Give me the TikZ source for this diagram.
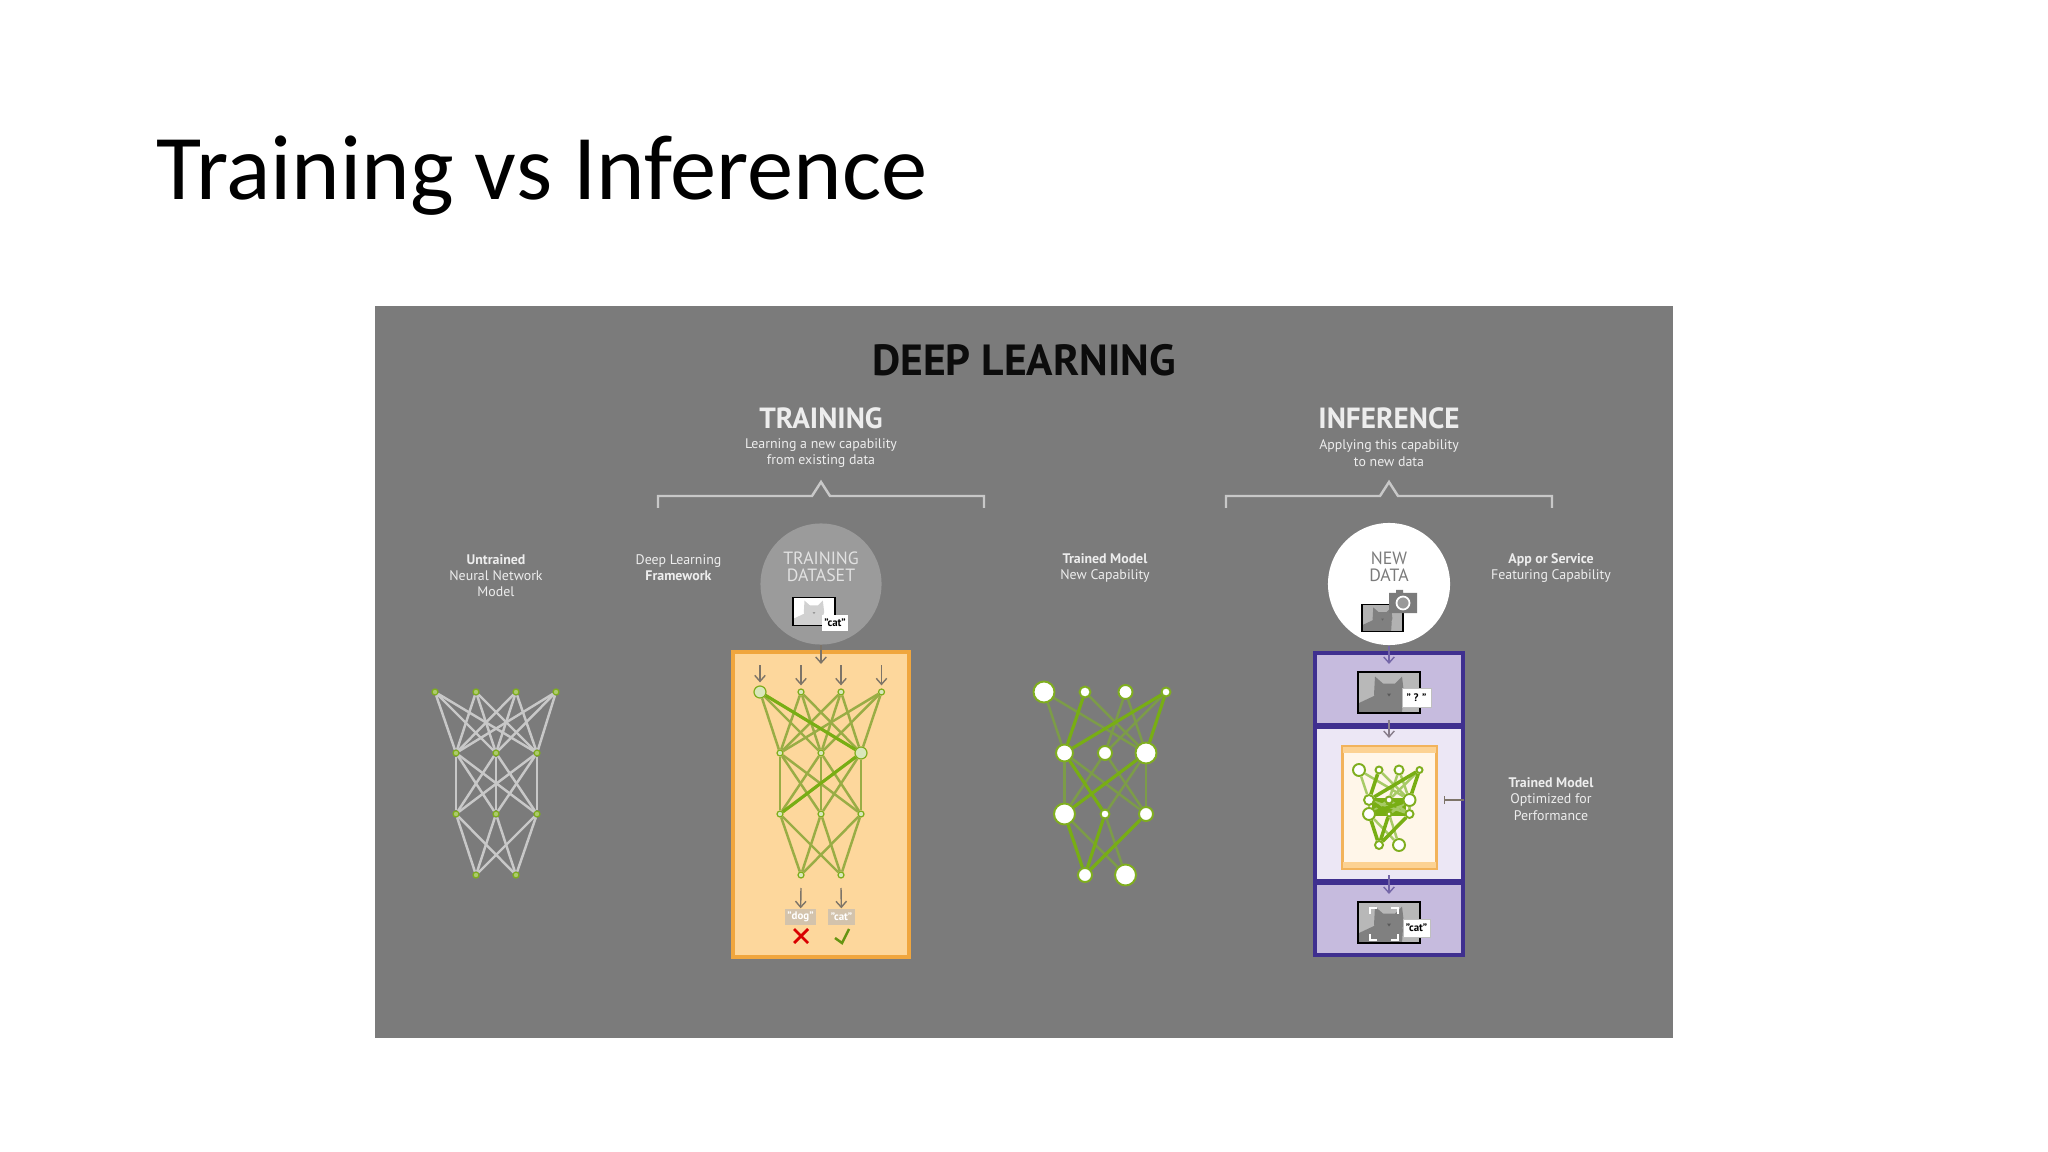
\documentclass[tikz,border=0pt]{standalone}
\usepackage{fontspec}
\setmainfont{PT Sans}
\newfontfamily\slidefont{Carlito}
\usetikzlibrary{arrows.meta, calc, positioning}

\definecolor{panelgray}{HTML}{7B7B7B}
\definecolor{labelwhite}{HTML}{EDEDED}
\definecolor{wiregray}{HTML}{C8C8C8}
\definecolor{unitgreen}{HTML}{7FAE1E}
\definecolor{wireolive}{HTML}{99AD45}
\definecolor{wirebright}{HTML}{78AE14}
\definecolor{wiredim}{HTML}{7C9C48}
\definecolor{boxorange}{HTML}{F0A63E}
\definecolor{fillorange}{HTML}{FDD79C}
\definecolor{boxpurple}{HTML}{3F2F8F}
\definecolor{fillpurple}{HTML}{C6BBDE}
\definecolor{filllilac}{HTML}{ECE7F5}
\definecolor{flowgray}{HTML}{7D7468}
\definecolor{flowpurple}{HTML}{7466A8}
\definecolor{circlegray}{HTML}{9B9B9B}

\tikzset{
	lab/.style={font=\fontsize{3.95}{4.65}\selectfont, text=labelwhite, align=center},
	head/.style={font=\fontsize{8.3}{9}\selectfont\bfseries, text=labelwhite},
	circlab/.style={font=\fontsize{5.05}{4.8}\selectfont, align=center},
	bracket/.style={draw=wiregray, line width=0.7pt},
	unit/.style={circle, inner sep=0pt, minimum size=0.06cm, fill=white!35!unitgreen, draw=unitgreen, line width=0.35pt},
	bigunit/.style={circle, inner sep=0pt, fill=white, draw=unitgreen, line width=0.55pt},
	wire/.style={line width=0.7pt},
	flow/.style={-{Straight Barb[length=1.7pt, width=3pt]}, line width=0.4pt, draw=flowgray},
	tagbox/.style={rectangle, inner sep=0pt, font=\fontsize{3.1}{3.1}\selectfont\bfseries},
	pics/catphoto/.style n args={3}{code={
		\begin{scope}
			\clip (-31,-20.5) rectangle (31,20.5);
			\fill[#1] (-31,-20.5) rectangle (31,20.5);
			\fill[#2] (-31,20.5) -- (-31,11) -- (-14,3) -- (14,6) -- (13,20.5) -- cycle;
			\fill[#2] (-14,-16) -- (-6,-9) -- (6,-9) -- (13,-16) -- (15,1) .. controls (12,12) and (5,16) .. (0,16) .. controls (-6,16) and (-13,11) .. (-15,2) -- cycle;
			\fill[#3] (-2,1) -- (2,1) -- (0,4) -- cycle;
		\end{scope}
		\draw[line width=0.5pt, black] (-31,-20.5) rectangle (31,20.5);
	}}
}

\def\brightwires{1-2/2-1, 1-4/2-1, 1-4/2-3, 2-1/3-2, 2-3/3-1, 3-1/4-1, 3-2/4-1, 3-3/4-1}
\def\dimwires{1-1/2-1, 1-1/2-3, 1-2/2-3, 1-3/2-2, 1-3/2-3, 1-4/2-2, 2-1/3-1, 2-1/3-3, 2-2/3-1, 2-2/3-3, 2-3/3-2, 2-3/3-3, 3-1/4-2, 3-2/4-2}

\begin{document}
\begin{tikzpicture}[x=0.01cm, y=-0.01cm]
	\useasboundingbox (0,0) rectangle (2048,1152);
	\node [anchor=base west, inner sep=0pt, font=\slidefont\fontsize{26.3}{30}\selectfont] (slidetitle) at (156,200) {Training vs Inference};
	\fill[panelgray] (375,306) rectangle (1673,1038);

	% headings
	\node [font=\fontsize{12.4}{13}\selectfont\bfseries, text=black!90!panelgray] (deeplearning) at (1024,360) {DEEP LEARNING};
	\node [head] (training) at (821,418) {TRAINING};
	\node [head] (inference) at (1389,418) {INFERENCE};
	\node [lab] (trainingsub) at (821,453) {Learning a new capability\\from existing data};
	\node [lab] (inferencesub) at (1389,453) {Applying this capability\\to new data};
	\foreach \cx in {821, 1389}
		\draw[bracket] ({\cx-163},508) -- ({\cx-163},496) -- ({\cx-9},496) -- (\cx,482) -- ({\cx+9},496) -- ({\cx+163},496) -- ({\cx+163},508);

	% column labels
	\node [lab] (untrainedlab) at (496,575.5) {\textbf{Untrained}\\Neural Network\\Model};
	\node [lab] (frameworklab) at (678.5,567.5) {Deep Learning\\\textbf{Framework}};
	\node [lab] (modellab) at (1105,568) {\textbf{Trained Model}\\New Capability};
	\node [lab] (applab) at (1551,568) {\textbf{App or Service}\\Featuring Capability};
	\node [lab] (optimizedlab) at (1551,799) {\textbf{Trained Model}\\Optimized for\\Performance};

	% untrained network
	\foreach \n/\x/\y in {1-1/435/692, 1-2/476/692, 1-3/516/692, 1-4/556/692,
			2-1/456/753, 2-2/496/753, 2-3/537/753,
			3-1/456/814, 3-2/496/814, 3-3/537/814,
			4-1/476/875, 4-2/516/875}
		\node [unit] (u\n) at (\x,\y) {};
	\foreach \p in {1,2,3,4}
		\foreach \q in {1,2,3}
			\draw[wire, wiregray] (u1-\p) -- (u2-\q);
	\foreach \p in {1,2,3}
		\foreach \q in {1,2,3}
			\draw[wire, wiregray] (u2-\p) -- (u3-\q);
	\foreach \p in {1,2,3}
		\foreach \q in {1,2}
			\draw[wire, wiregray] (u3-\p) -- (u4-\q);

	% training box
	\node [rectangle, draw=boxorange, fill=fillorange, line width=1pt, minimum width=1.76cm, minimum height=3.05cm] (trainbox) at (821,804.5) {};
	\node [circle, fill=circlegray, minimum size=1.21cm, inner sep=0pt] (traindata) at (821,584) {};
	\node [circlab, text=labelwhite!90!panelgray] (traindatalab) at (821,566.5) {TRAINING\\DATASET};
	\pic [scale=0.68] (trainphoto) at (814,611.5) {catphoto={white}{white!82!black}{white!60!black}};
	\node [tagbox, fill=white, text=black, minimum width=0.26cm, minimum height=0.16cm] (traintag) at (835,623) {"cat"};
	\foreach \n/\x/\y/\r in {1-1/760/692/6, 1-2/801/692/3, 1-3/841/692/3, 1-4/881.5/692/3,
			2-1/780/753/3, 2-2/821/753/3, 2-3/861/753/6,
			3-1/780/814/3, 3-2/821/814/3, 3-3/861/814/3,
			4-1/801/875/3, 4-2/841/875/3}
		\node [unit, minimum size=2*\r*0.01cm, fill=white!70!unitgreen] (f\n) at (\x,\y) {};
	\foreach \p in {1,2,3,4}
		\foreach \q in {1,2,3}
			\draw[wire, wireolive] (f1-\p) -- (f2-\q);
	\foreach \p in {1,2,3}
		\foreach \q in {1,2,3}
			\draw[wire, wireolive] (f2-\p) -- (f3-\q);
	\foreach \p in {1,2,3}
		\foreach \q in {1,2}
			\draw[wire, wireolive] (f3-\p) -- (f4-\q);
	\draw[wire, wirebright, line width=0.9pt] (f1-1) -- (f2-3);
	\draw[wire, wirebright, line width=0.9pt] (f2-3) -- (f3-1);
	\coordinate (trainin) at (821,664);
	\draw[flow] (traindata) -- (trainin);
	\foreach \p/\x in {1/760, 2/801, 3/841, 4/881.5} {
		\coordinate (in\p) at (\x,665);
		\draw[flow, shorten >=0.03cm] (in\p) -- (f1-\p);
	}
	\node [tagbox, fill=white!45!panelgray!60!fillorange, text=white, minimum width=0.31cm, minimum height=0.16cm] (dogtag) at (800.5,917) {"dog"};
	\node [tagbox, fill=white!45!panelgray!60!fillorange, text=white, minimum width=0.27cm, minimum height=0.16cm] (cattag) at (841.5,917) {"cat"};
	\coordinate (dogin) at (801,888);
	\coordinate (catin) at (841,888);
	\draw[flow] (dogin) -- (dogtag);
	\draw[flow] (catin) -- (cattag);
	\draw[line width=0.8pt, red!85!black] (794,929) -- (808,943) (808,929) -- (794,943);
	\draw[line width=0.7pt, wirebright!85!black] (835,938) -- (842,943) -- (849,929);

	% trained model
	\foreach \n/\x/\y/\r in {1-1/1044/692/10.5, 1-2/1085/692/5.5, 1-3/1125.5/692/7, 1-4/1166/692/4.5,
			2-1/1064.5/753/8.5, 2-2/1105/753/7, 2-3/1146/753/10.5,
			3-1/1064.5/814/10.5, 3-2/1105/814/4.5, 3-3/1146/814/7,
			4-1/1085/875/7, 4-2/1125.5/875/10.5}
		\node [bigunit, minimum size=2*\r*0.01cm] (m\n) at (\x,\y) {};
	\foreach \p/\q in \dimwires
		\draw[wire, wiredim] (m\p) -- (m\q);
	\foreach \p/\q in \brightwires
		\draw[wire, wirebright, line width=0.9pt] (m\p) -- (m\q);

	% inference column
	\node [rectangle, draw=boxpurple, fill=fillpurple, line width=1.1pt, minimum width=1.48cm, minimum height=0.72cm] (inputbox) at (1389,689) {};
	\node [rectangle, draw=boxpurple, fill=fillpurple, line width=1.1pt, minimum width=1.48cm, minimum height=0.72cm] (outputbox) at (1389,919) {};
	\node [rectangle, draw=boxpurple, fill=filllilac, line width=1.1pt, minimum width=1.48cm, minimum height=1.54cm] (modelbox) at (1389,804) {};
	\node [circle, fill=white, minimum size=1.22cm, inner sep=0pt] (newdata) at (1389,584) {};
	\node [circlab, text=panelgray] (newdatalab) at (1389,566.5) {NEW\\DATA};
	\pic [scale=0.66] (newphoto) at (1382.5,618) {catphoto={white!70!black}{white!50!black}{white!40!black}};
	\fill[panelgray] (1389,593) rectangle (1417,613) (1396,590) rectangle (1403,593);
	\draw[white, line width=0.5pt, fill=white!60!black] (1403,603) circle (6.5);

	\pic (inputphoto) at (1389,692.5) {catphoto={white!72!black}{white!50!black}{white!35!black}};
	\node [tagbox, fill=white, draw=white!75!black, line width=0.2pt, text=black, minimum width=0.29cm, minimum height=0.19cm] (asktag) at (1416.5,697.5) {" ? "};
	\pic (outputphoto) at (1389,922.5) {catphoto={white!72!black}{white!50!black}{white!35!black}};
	\draw[white, line width=0.45pt] (1370,914) |- (1377,908) (1391,908) -| (1398,914) (1370,934) |- (1377,940) (1391,940) -| (1398,934);
	\node [tagbox, fill=white, draw=white!75!black, line width=0.2pt, text=black, minimum width=0.27cm, minimum height=0.18cm] (answertag) at (1416.5,928) {"cat"};

	\node [rectangle, draw=boxorange!85!white, fill=white!78!fillorange, line width=0.6pt, minimum width=0.94cm, minimum height=1.22cm] (optbox) at (1389.5,807.5) {};
	\node [rectangle, fill=fillorange!90!boxorange, minimum width=0.93cm, minimum height=0.06cm, inner sep=0pt] (optbandtop) at (1389.5,750) {};
	\node [rectangle, fill=fillorange!90!boxorange, minimum width=0.93cm, minimum height=0.06cm, inner sep=0pt] (optbandbottom) at (1389.5,865) {};
	\fill[wirebright] (1372,798) rectangle (1406,816);
	\foreach \n/\x/\y/\r in {1-1/1359/770/6, 1-2/1379/770/3.5, 1-3/1399/770/4.5, 1-4/1419.5/770/3,
			2-1/1369/800/5, 2-2/1389/800/3.5, 2-3/1409.5/800/6,
			3-1/1369/814/6, 3-2/1389/814/2.5, 3-3/1409.5/814/4,
			4-1/1379/845/4, 4-2/1399/845/6}
		\node [bigunit, minimum size=2*\r*0.01cm] (o\n) at (\x,\y) {};
	\foreach \p/\q in \dimwires
		\draw[wire, wirebright!65!white] (o\p) -- (o\q);
	\foreach \p/\q in \brightwires
		\draw[wire, wirebright, line width=1pt] (o\p) -- (o\q);

	\coordinate (inputin) at (1389,664);
	\coordinate (midstart) at (1389,720);
	\coordinate (midend) at (1389,738);
	\coordinate (outstart) at (1389,875);
	\coordinate (outend) at (1389,894);
	\coordinate (tickstart) at (1464,800);
	\coordinate (tickend) at (1444,800);
	\draw[flow, flowpurple] (newdata) -- (inputin);
	\draw[flow, white!15!flowgray!70!flowpurple] (midstart) -- (midend);
	\draw[flow, flowpurple] (outstart) -- (outend);
	\draw[line width=0.4pt, flowgray, -{Bar[width=2.4pt]}] (tickstart) -- (tickend);
\end{tikzpicture}
\end{document}
